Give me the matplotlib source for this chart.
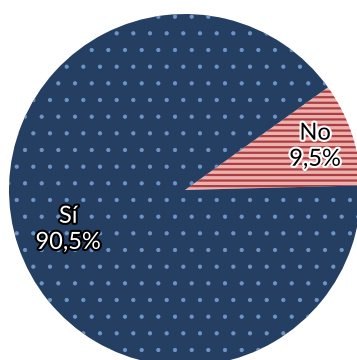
import numpy as np
import matplotlib
matplotlib.use("Agg")
import matplotlib.pyplot as plt
import matplotlib.patheffects as pe

labels = ["No", "Sí"]
values = [9.5, 90.5]
face_colors = ["#eeb2ae", "#243f62"]
hatch_colors = ["#ab3e42", "#6f95c8"]
hatches = ["---", "."]
label_radius = [0.78, 0.70]
text_colors = ["black", "white"]
stroke_colors = ["white", "black"]

W, H = 357, 360
cx, cy, r = 185, 190, 176

fig = plt.figure(figsize=(W / 100, H / 100), dpi=100)
ax = fig.add_axes([0, 0, 1, 1])

wedges, _ = ax.pie(values, startangle=1.5, counterclock=True, colors=face_colors,
                   wedgeprops=dict(linewidth=0), radius=1.0, frame=True)
ax.set_xlim(-cx / r, (W - cx) / r)
ax.set_ylim(-(H - cy) / r, cy / r)
ax.set_aspect("auto")
ax.axis("off")

for w, hc, h in zip(wedges, hatch_colors, hatches):
    w.set_hatch(h)
    w.set_edgecolor(hc)
    w.set_linewidth(0)
    if hasattr(w, "set_hatch_linewidth"):
        w.set_hatch_linewidth(1.6 if h == "---" else 0.6)

for w, lab, v, rr, tc, sc in zip(wedges, labels, values, label_radius, text_colors, stroke_colors):
    ang = np.deg2rad((w.theta1 + w.theta2) / 2)
    txt = f"{lab}\n{v:.1f}%".replace(".", ",")
    ax.text(rr * np.cos(ang), rr * np.sin(ang), txt, ha="center", va="center",
            fontsize=17, color=tc, family="Lato", linespacing=1.3,
            path_effects=[pe.withStroke(linewidth=3, foreground=sc)])

fig.savefig("out.png", dpi=100)
